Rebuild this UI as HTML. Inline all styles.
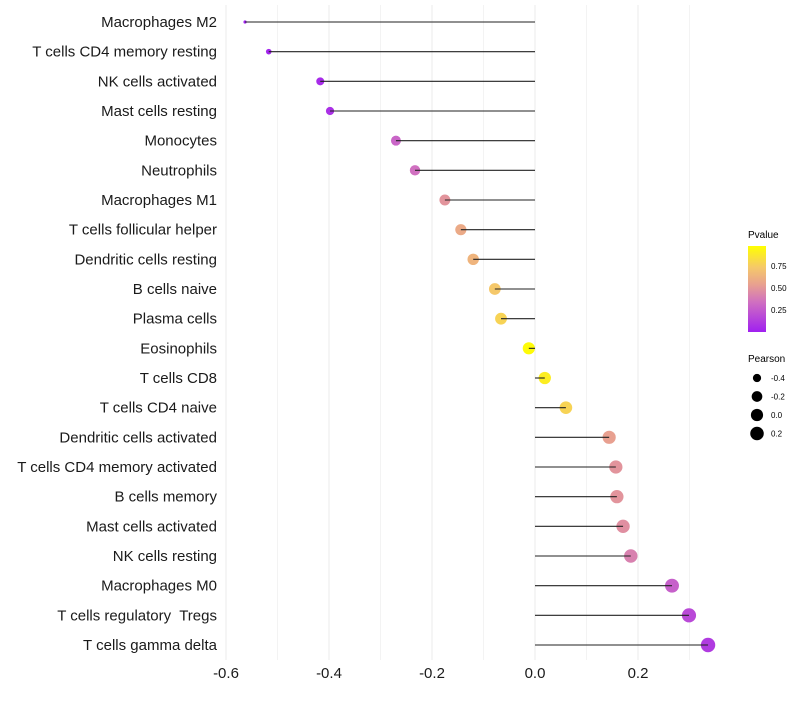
<!DOCTYPE html>
<html><head><meta charset="utf-8"><style>
body{margin:0;background:#fff}
svg text{font-family:"Liberation Sans",Arial,sans-serif;white-space:pre}
</style></head><body>
<svg id="chart" width="800" height="700" viewBox="0 0 800 700" xmlns="http://www.w3.org/2000/svg">
<g id="grid"></g>
<g id="marks"></g>
<g id="ylabels"></g>
<g id="xlabels"></g>
<g id="legend">
<defs><linearGradient id="pg" x1="0" y1="1" x2="0" y2="0">
<stop offset="0" stop-color="#a020f0"/><stop offset="0.35" stop-color="#d070c0"/><stop offset="0.55" stop-color="#e8a090"/><stop offset="0.75" stop-color="#f5c86a"/><stop offset="1" stop-color="#ffff00"/></linearGradient></defs>
<text x="748" y="238" font-size="10">Pvalue</text>
<rect x="748" y="246" width="18" height="86" fill="url(#pg)"/>
<g font-size="8">
<text x="771" y="269">0.75</text>
<text x="771" y="291">0.50</text>
<text x="771" y="313">0.25</text>
</g>
<text x="748" y="362" font-size="10">Pearson</text>
<g id="sizeleg"></g>
</g>
</svg>
<script>
const categories=["Macrophages M2","T cells CD4 memory resting","NK cells activated","Mast cells resting","Monocytes","Neutrophils","Macrophages M1","T cells follicular helper","Dendritic cells resting","B cells naive","Plasma cells","Eosinophils","T cells CD8","T cells CD4 naive","Dendritic cells activated","T cells CD4 memory activated","B cells memory","Mast cells activated","NK cells resting","Macrophages M0","T cells regulatory  Tregs","T cells gamma delta"];
const pearson=[-0.563,-0.517,-0.417,-0.398,-0.270,-0.233,-0.175,-0.144,-0.120,-0.078,-0.066,-0.012,0.019,0.060,0.144,0.157,0.159,0.171,0.186,0.266,0.299,0.336];
const pvalue=[0.0,0.02,0.05,0.07,0.3,0.35,0.5,0.6,0.65,0.75,0.8,0.98,0.92,0.8,0.55,0.5,0.5,0.48,0.42,0.28,0.18,0.12];
const xTicks=[-0.6,-0.4,-0.2,0.0,0.2];
const sizeLegend=[-0.4,-0.2,0.0,0.2];
const NS="http://www.w3.org/2000/svg";
const x=v=>535+v*515;
const y=i=>22+i*(623/21);
const sizeScale=[[-0.563,1.6],[-0.517,2.8],[-0.417,4.0],[-0.27,5.0],[-0.1,5.8],[0.15,6.6],[0.336,7.2]];
function r(v){if(v<=sizeScale[0][0])return sizeScale[0][1];for(let k=1;k<sizeScale.length;k++){const a=sizeScale[k-1],b=sizeScale[k];if(v<=b[0])return a[1]+(b[1]-a[1])*(v-a[0])/(b[0]-a[0]);}return sizeScale[sizeScale.length-1][1];}
const stops=[[0,[160,32,240]],[0.35,[208,112,192]],[0.55,[232,160,144]],[0.75,[245,200,106]],[1,[255,255,0]]];
function col(p){for(let k=1;k<stops.length;k++){if(p<=stops[k][0]){const a=stops[k-1],b=stops[k];const t=(p-a[0])/(b[0]-a[0]);return `rgb(${a[1].map((c,j)=>Math.round(c+(b[1][j]-c)*t)).join(',')})`;}}return 'rgb(255,255,0)';}
function mk(t,at,parent){const e=document.createElementNS(NS,t);for(const k in at)e.setAttribute(k,at[k]);parent.appendChild(e);return e;}
const grid=document.getElementById('grid');
for(let v=-0.6;v<=0.31;v+=0.1){const l=mk('line',{x1:x(v),x2:x(v),y1:5,y2:660,stroke:'#ebebeb','stroke-width':(Math.round(v*10)%2===0)?1:0.6},grid);

}
const marks=document.getElementById('marks'),yl=document.getElementById('ylabels'),xl=document.getElementById('xlabels');
categories.forEach((c,i)=>{
const pt=mk('circle',{cx:x(pearson[i]),cy:y(i),r:r(pearson[i]),fill:col(pvalue[i])},marks);


const ln=mk('line',{x1:x(0),x2:x(pearson[i]),y1:y(i),y2:y(i),stroke:'#222','stroke-width':1.1},marks);


const t=mk('text',{x:217,y:y(i)+5,'text-anchor':'end','font-size':15,fill:'#1a1a1a'},yl);t.textContent=c;


});
xTicks.forEach(v=>{const t=mk('text',{x:x(v),y:678,'text-anchor':'middle','font-size':15,fill:'#1a1a1a'},xl);t.textContent=v.toFixed(1);

});
const sl=document.getElementById('sizeleg');
sizeLegend.forEach((v,i)=>{const cy=378+i*18.5;
const c=mk('circle',{cx:757,cy:cy,r:r(v),fill:'#000'},sl);


const t=mk('text',{x:771,y:cy+3,'font-size':8},sl);t.textContent=v.toFixed(1);

});
</script>
</body></html>
